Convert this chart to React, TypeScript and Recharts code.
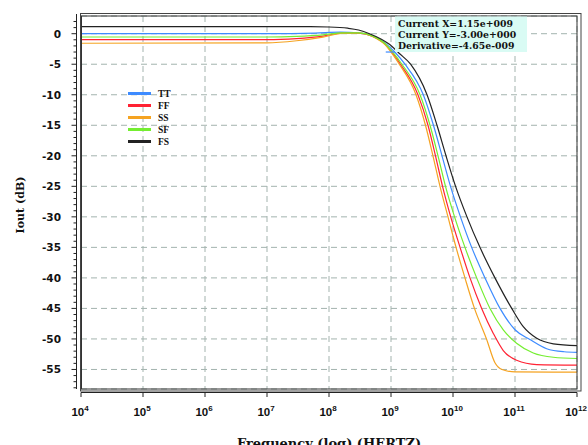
import {
  LineChart,
  Line,
  XAxis,
  YAxis,
  CartesianGrid,
  ReferenceDot,
} from "recharts";

// TT
const ttFreq = [1e4, 1e7, 6e7, 1.5e8, 3e8, 5e8, 8e8, 1.15e9, 1.68e9, 3.32e9, 4.84e9, 6.65e9, 9.12e9, 1.32e10, 2.0e10, 3.28e10, 5.73e10, 1.0e11, 1.74e11, 3.24e11, 6.2e11, 1e12];
const ttDb = [0, 0, 0.1, 0.25, 0.15, -0.35, -1.5, -3.0, -5, -10, -15, -20, -25, -30, -35, -40, -45, -48.5, -50.1, -51.6, -52.1, -52.2];

// FF
const ffFreq = [1e4, 1e7, 3e7, 8e7, 1.6e8, 3e8, 5e8, 8e8, 1.1e9, 1.42e9, 2.72e9, 3.95e9, 5.22e9, 6.78e9, 9.19e9, 1.3e10, 1.88e10, 2.9e10, 4.47e10, 6.47e10, 1.06e11, 2.24e11, 1e12];
const ffDb = [-0.98, -0.98, -0.8, -0.4, 0.1, 0.1, -0.4, -1.7, -3.4, -5, -10, -15, -20, -25, -30, -35, -40, -45, -49.1, -51.9, -53.5, -54.2, -54.3];

// SS
const ssFreq = [1e4, 1e7, 3e7, 8e7, 1.6e8, 3e8, 5e8, 8e8, 1.1e9, 1.36e9, 2.53e9, 3.6e9, 4.75e9, 6.17e9, 8.3e9, 1.12e10, 1.56e10, 2.22e10, 3.47e10, 4.75e10, 6.17e10, 1.0e11, 1e12];
const ssDb = [-1.56, -1.5, -1.15, -0.55, 0.05, 0.1, -0.45, -1.8, -3.6, -5, -10, -15, -20, -25, -30, -35, -40, -45, -50, -53.9, -55, -55.4, -55.45];

// SF
const sfFreq = [1e4, 1e7, 3e7, 8e7, 1.6e8, 3e8, 5e8, 8e8, 1.1e9, 1.5e9, 2.94e9, 4.26e9, 5.73e9, 7.57e9, 1.06e10, 1.56e10, 2.41e10, 3.95e10, 6.47e10, 1.06e11, 1.97e11, 4.15e11, 1e12];
const sfDb = [-0.54, -0.54, -0.45, -0.2, 0.15, 0.12, -0.35, -1.6, -3.2, -5, -10, -15, -20, -25, -30, -35, -40, -45, -48.5, -50.7, -52.3, -53.0, -53.2];

// FS
const fsFreq = [1e4, 5e7, 1e8, 2e8, 3e8, 4.5e8, 7e8, 9.3e8, 1.35e9, 2.07e9, 3.81e9, 5.52e9, 7.71e9, 1.1e10, 1.68e10, 2.72e10, 4.75e10, 8.85e10, 1.36e11, 2.24e11, 4.15e11, 1e12];
const fsDb = [1.15, 1.15, 1.1, 0.9, 0.6, 0.0, -0.9, -1.7, -3.2, -5, -10, -15, -20, -25, -30, -35, -40, -45, -48.0, -49.9, -50.8, -51.1];

const seriesNames = ["TT", "FF", "SS", "SF", "FS"];
const seriesColors = ["#3d8bff", "#ff2233", "#f5a321", "#74ee30", "#222222"];

const xTicks = [1e4, 1e5, 1e6, 1e7, 1e8, 1e9, 1e10, 1e11, 1e12];
const yGridTicks = [0, -5, -10, -15, -20, -25, -30, -35, -40, -45, -50, -55];
const yMinorTicks = [2, 1, 0, -1, -2, -3, -4, -5, -6, -7, -8, -9, -10, -11, -12, -13, -14, -15, -16, -17, -18, -19, -20, -21, -22, -23, -24, -25, -26, -27, -28, -29, -30, -31, -32, -33, -34, -35, -36, -37, -38, -39, -40, -41, -42, -43, -44, -45, -46, -47, -48, -49, -50, -51, -52, -53, -54, -55, -56, -57, -58];

const cursorX = 1.15e9;
const cursorY = -3.0;
const cursorText = ["Current X=1.15e+009", "Current Y=-3.00e+000", "Derivative=-4.65e-009"];

const allFreq = [ttFreq, ffFreq, ssFreq, sfFreq, fsFreq];
const allDb = [ttDb, ffDb, ssDb, sfDb, fsDb];

const W = 588;
const H = 445;
const PL = 81;
const PR = 577;
const PT = 16;
const PB = 389;
const AXIS_X = 76.5;

function XTick(props: any) {
  const { x, payload } = props;
  const exp = Math.round(Math.log10(payload.value));
  return (
    <g>
      <line x1={x} x2={x} y1={392.5} y2={397} stroke="#222" />
      <text
        x={x - 1}
        y={416}
        textAnchor="middle"
        fontFamily="Liberation Sans, Arial, sans-serif"
        fontWeight="bold"
        fontSize={11.5}
        fill="#111"
      >
        10
        <tspan dy={-5.5} fontSize={8}>
          {exp}
        </tspan>
      </text>
    </g>
  );
}

function YTick(props: any) {
  const { y, payload } = props;
  const v = payload.value;
  const major = v % 5 === 0;
  return (
    <g>
      <line x1={AXIS_X - (major ? 5 : 3)} x2={AXIS_X} y1={y} y2={y} stroke="#222" />
      {major && (
        <text
          x={61}
          y={y}
          textAnchor="end"
          dominantBaseline="central"
          fontFamily="DejaVu Sans, sans-serif"
          fontWeight="bold"
          fontSize={10.5}
          fill="#111"
        >
          {v}
        </text>
      )}
    </g>
  );
}

export default function App() {
  return (
    <div
      style={{
        position: "absolute",
        left: 0,
        top: 0,
        width: W,
        height: H,
        overflow: "hidden",
        background: "#fff",
      }}
    >
      <LineChart
        width={W}
        height={H}
        margin={{ top: PT, right: W - PR, bottom: 26, left: 0 }}
      >
        <XAxis
          dataKey="f"
          type="number"
          scale="log"
          domain={[1e4, 1e12]}
          ticks={xTicks}
          interval={0}
          allowDataOverflow
          height={30}
          tickSize={0}
          tickMargin={0}
          tickLine={false}
          axisLine={false}
          tick={<XTick />}
        />
        <YAxis
          yAxisId="y"
          type="number"
          domain={[-58.2, 2.9]}
          ticks={yMinorTicks}
          interval={0}
          allowDataOverflow
          width={PL}
          tickSize={0}
          tickMargin={0}
          tickLine={false}
          axisLine={false}
          tick={<YTick />}
        />
        <YAxis
          yAxisId="g"
          type="number"
          domain={[-58.2, 2.9]}
          ticks={yGridTicks}
          interval={0}
          allowDataOverflow
          hide
        />
        <CartesianGrid
          yAxisId="g"
          stroke="#a3b3ae"
          strokeDasharray="6 4"
        />
        {seriesNames.map((name, i) => (
          <Line
            key={name}
            yAxisId="y"
            name={name}
            data={allFreq[i].map((f, j) => ({ f, db: allDb[i][j] }))}
            dataKey="db"
            type="monotone"
            stroke={seriesColors[i]}
            strokeWidth={1.2}
            dot={false}
            isAnimationActive={false}
          />
        ))}
        <ReferenceDot
          yAxisId="y"
          x={cursorX}
          y={cursorY}
          shape={(p: any) => (
            <line x1={p.cx - 9} x2={p.cx + 1} y1={p.cy} y2={p.cy} stroke="#3d8bff" strokeWidth={1.2} />
          )}
        />
      </LineChart>

      <svg
        width={W}
        height={H}
        style={{ position: "absolute", left: 0, top: 0, pointerEvents: "none" }}
      >
        {/* frame */}
        <rect x={80.5} y={13.5} width={500.5} height={377.5} fill="none" stroke="#444" />
        <rect x={81.5} y={16} width={495.5} height={373} fill="none" stroke="#333" />
        {/* axis lines */}
        <line x1={AXIS_X} x2={AXIS_X} y1={14} y2={389} stroke="#222" />
        <line x1={PL} x2={PR} y1={392.5} y2={392.5} stroke="#222" />

        {/* cursor readout */}
        <rect x={395} y={16.5} width={132} height={35.5} fill="#d9fbf4" />
        {cursorText.map((t, i) => (
          <text
            key={t}
            x={398}
            y={27 + i * 11}
            fontFamily="DejaVu Serif, serif"
            fontWeight="bold"
            fontSize={9.3}
            fill="#111"
          >
            {t}
          </text>
        ))}

        {/* legend */}
        {seriesNames.map((name, i) => (
          <g key={name}>
            <line
              x1={128}
              x2={151}
              y1={93.5 + i * 12}
              y2={93.5 + i * 12}
              stroke={seriesColors[i]}
              strokeWidth={3}
            />
            <text
              x={158}
              y={93.5 + i * 12 + 3.5}
              fontFamily="Liberation Serif, serif"
              fontWeight="bold"
              fontSize={9.5}
              fill="#111"
            >
              {name}
            </text>
          </g>
        ))}

        {/* axis titles */}
        <text
          x={20}
          y={205}
          transform="rotate(-90 20 205)"
          textAnchor="middle"
          dominantBaseline="central"
          fontFamily="DejaVu Serif, serif"
          fontWeight="bold"
          fontSize={11}
          fill="#111"
        >
          Iout (dB)
        </text>
        <text
          x={(PL + PR) / 2}
          y={448}
          textAnchor="middle"
          fontFamily="DejaVu Serif, serif"
          fontWeight="bold"
          fontSize={13}
          fill="#111"
        >
          Frequency (log) (HERTZ)
        </text>
      </svg>
    </div>
  );
}
